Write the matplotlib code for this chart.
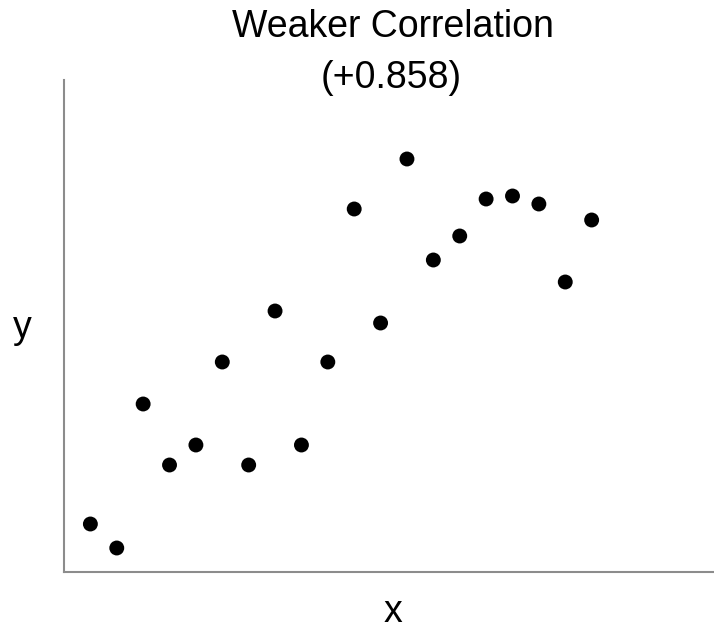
import matplotlib
matplotlib.use("Agg")
import matplotlib.pyplot as plt

plt.rcParams['font.family'] = ['Liberation Sans', 'DejaVu Sans']

# Data
x_vals = list(range(1, 21))
y_vals = [4.8, 2.4, 16.8, 10.7, 12.7, 21.0, 10.7, 26.1, 12.7, 21.0,
          36.3, 24.9, 41.3, 31.2, 33.6, 37.3, 37.6, 36.8, 29.0, 35.2]
title_lines = ["Weaker Correlation", "(+0.858)"]

fig = plt.figure(figsize=(7.14, 6.31), dpi=100)
ax = fig.add_axes([64 / 714, 59 / 631, 649 / 714, 492 / 631])

ax.scatter(x_vals, y_vals, s=115, color='black', edgecolors='none', zorder=3)
ax.set_xlim(0, 24.6)
ax.set_ylim(0, 49.2)

for side in ['top', 'right']:
    ax.spines[side].set_visible(False)
for side in ['left', 'bottom']:
    ax.spines[side].set_color('#8c8c8c')
    ax.spines[side].set_linewidth(1.5)
ax.set_xticks([])
ax.set_yticks([])

# Title and axis labels
fig.text(393 / 714, 1 - 27 / 631, title_lines[0], ha='center', va='center', fontsize=27)
fig.text(391 / 714, 1 - 78 / 631, title_lines[1], ha='center', va='center', fontsize=27)
fig.text(393 / 714, 1 - 612 / 631, "x", ha='center', va='center', fontsize=27)
fig.text(22 / 714, 1 - 328 / 631, "y", ha='center', va='center', fontsize=27)

fig.savefig("out.png", dpi=100)
